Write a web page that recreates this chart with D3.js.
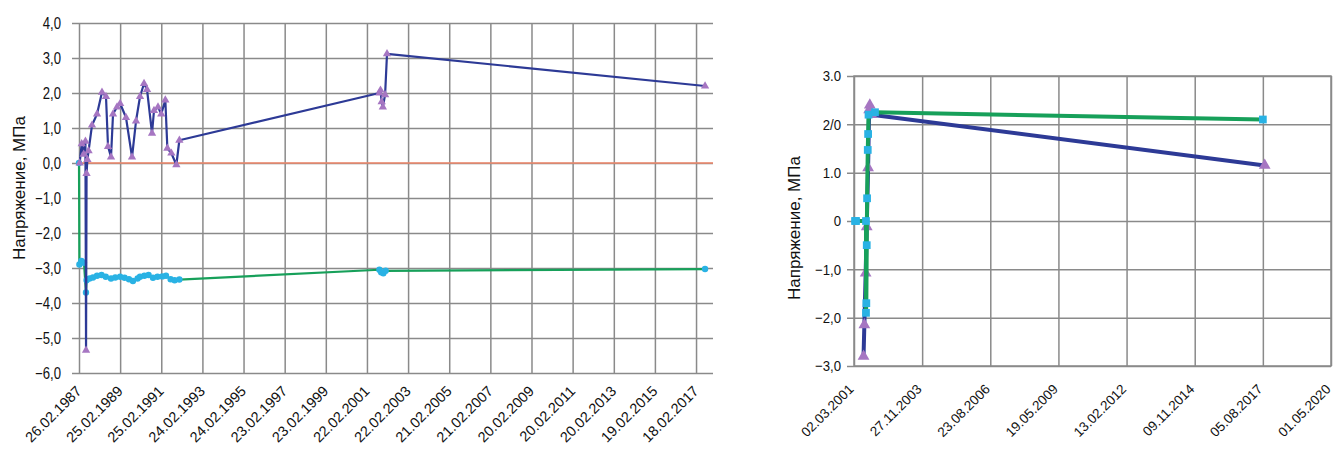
<!DOCTYPE html>
<html><head><meta charset="utf-8">
<script src="https://cdn.jsdelivr.net/npm/d3@7"></script>
<style>
body{margin:0;background:#fff;}
svg{display:block;}
</style></head><body>
<svg id="c" width="1336" height="449"></svg>
<script>
// ---------- DATA ----------
const leftXTickLabels = ["26.02.1987","25.02.1989","25.02.1991","24.02.1993","24.02.1995","23.02.1997","23.02.1999","22.02.2001","22.02.2003","21.02.2005","21.02.2007","20.02.2009","20.02.2011","20.02.2013","19.02.2015","18.02.2017"];
const leftXEnd = "16.12.2017";
const leftYTicks = [4,3,2,1,0,-1,-2,-3,-4,-5,-6];
const leftYTickLabels = ["4,0","3,0","2,0","1,0","0,0","\u22121,0","\u22122,0","\u22123,0","\u22124,0","\u22125,0","\u22126,0"];
const yTitle = "Напряжение, МПа";

const leftBlueDates = ["10.03.1987","15.04.1987","20.05.1987","20.06.1987","01.07.1987","10.07.1987","25.07.1987","15.08.1987","15.10.1987","12.01.1988","09.04.1988","19.06.1988","25.07.1988","16.09.1988","22.10.1988","01.01.1989","25.02.1989","09.06.1989","24.09.1989","04.12.1989","13.02.1990","25.04.1990","17.06.1990","14.09.1990","19.10.1990","29.12.1990","25.02.1991","08.05.1991","13.06.1991","23.08.1991","20.11.1991","12.01.1992","01.10.2001","20.10.2001","10.11.2001","01.12.2001","10.01.2002","13.02.2002","28.07.2017"];
const leftBlueValues = [0.0,0.55,0.25,0.62,-5.35,-0.3,0.1,0.35,1.08,1.4,2.02,1.9,0.47,0.17,1.4,1.6,1.7,1.3,0.17,1.2,1.9,2.27,2.1,0.85,1.5,1.6,1.4,1.8,0.42,0.28,-0.05,0.65,2.0,2.08,1.75,1.6,1.95,3.12,2.2];

const leftGreenDates = ["26.02.1987","05.03.1987","10.04.1987","25.05.1987","30.06.1987","10.07.1987","01.09.1987","01.11.1987","12.01.1988","01.04.1988","15.06.1988","16.09.1988","01.12.1988","25.02.1989","15.05.1989","01.08.1989","10.10.1989","01.01.1990","13.02.1990","01.05.1990","15.07.1990","01.10.1990","20.12.1990","15.03.1991","20.05.1991","10.08.1991","20.10.1991","12.01.1992","01.10.2001","01.11.2001","10.12.2001","20.01.2002","28.07.2017"];
const leftGreenValues = [0.0,-2.9,-2.8,-2.85,-3.7,-3.35,-3.3,-3.27,-3.22,-3.2,-3.25,-3.3,-3.27,-3.25,-3.28,-3.32,-3.37,-3.3,-3.25,-3.22,-3.2,-3.28,-3.25,-3.24,-3.22,-3.32,-3.35,-3.33,-3.05,-3.12,-3.15,-3.08,-3.03];

const leftZeroValue = 0;

const rightXTickLabels = ["02.03.2001","27.11.2003","23.08.2006","19.05.2009","13.02.2012","09.11.2014","05.08.2017","01.05.2020"];
const rightYTicks = [3,2,1,0,-1,-2,-3];
const rightYTickLabels = ["3.0","2/0","1.0","0","\u22121,0","\u22122,0","\u22123,0"];

const rightBlueDates = ["20.07.2001","01.08.2001","20.08.2001","05.09.2001","25.09.2001","10.10.2001","20.10.2001","15.11.2001","01.09.2017"];
const rightBlueValues = [-2.8,-2.15,-1.08,-0.12,1.1,2.3,2.4,2.2,1.15];

const rightGreenDates = ["17.03.2001","01.04.2001","25.08.2001","25.08.2001","30.08.2001","05.09.2001","10.09.2001","20.09.2001","25.09.2001","01.10.2001","04.01.2002","05.08.2017"];
const rightGreenValues = [0.0,0.0,0.0,-1.9,-1.7,-0.5,0.47,1.47,1.8,2.2,2.25,2.1];

// ---------- DRAW ----------
const parse = d3.timeParse("%d.%m.%Y");
const svg = d3.select("#c");
const FONT = '"Liberation Sans",Arial,sans-serif';
const gridColor = "#8a8a8a";

function zip(ds, vs){ return ds.map((d,i)=>({x:parse(d), y:vs[i]})); }

function drawChart(o){
  const x = d3.scaleTime().domain([parse(o.xTicks[0]), parse(o.xEnd)]).range([o.x0, o.x1]);
  const y = d3.scaleLinear().domain([d3.min(o.yTicks), d3.max(o.yTicks)]).range([o.y1, o.y0]);
  const g = svg.append("g");

  // y axis with gridlines
  const ya = d3.axisLeft(y).tickValues(o.yTicks)
     .tickFormat((d,i)=>o.yLabels[i]).tickSizeInner(-(o.x1 - o.x0 + o.outTick)).tickSizeOuter(0).tickPadding(o.yPad);
  const yg = g.append("g").attr("transform", `translate(${o.x0 - o.outTick},0)`).call(ya);
  yg.select(".domain").remove();
  yg.selectAll("line").attr("stroke", gridColor).attr("stroke-width", 1.5);
  yg.selectAll("text").attr("font-family", FONT).attr("font-size", o.yFont).attr("fill","#111")
     .attr("x", -o.yPad / o.yScaleX).attr("transform", `scale(${o.yScaleX},1)`);

  // x axis with gridlines
  const xa = d3.axisBottom(x).tickValues(o.xTicks.map(parse))
     .tickFormat((d,i)=>o.xTicks[i]).tickSizeInner(-(o.y1 - o.y0)).tickSizeOuter(0).tickPadding(0);
  const xg = g.append("g").attr("transform", `translate(0,${o.y1})`).call(xa);
  xg.select(".domain").remove();
  xg.selectAll("line").attr("stroke", gridColor).attr("stroke-width", 1.5);
  xg.selectAll("text").attr("font-family", FONT).attr("font-size", o.xFont).attr("fill","#111")
     .attr("text-anchor","end").attr("y",0).attr("dy",0)
     .attr("transform", `translate(${o.xLabDx},${o.xLabDy}) rotate(-45)`);

  if (o.border) {
    g.append("rect").attr("x", o.x0).attr("y", o.y0).attr("width", o.x1-o.x0).attr("height", o.y1-o.y0)
      .attr("fill","none").attr("stroke", gridColor).attr("stroke-width", 1.5);
  }
  if (o.zero !== undefined) {
    g.append("line").attr("x1", o.x0).attr("x2", o.x1).attr("y1", y(o.zero)).attr("y2", y(o.zero))
      .attr("stroke", "#f0876a").attr("stroke-width", 1.3);
  }

  // y title
  g.append("text").attr("transform", `translate(${o.titleX},${o.titleY}) rotate(-90)`)
    .attr("text-anchor","middle").attr("dominant-baseline","central")
    .attr("font-family", FONT).attr("font-size", o.titleFont).attr("fill","#111").text(yTitle);

  const line = d3.line().x(d=>x(d.x)).y(d=>y(d.y));
  const blue = zip(o.blueD, o.blueV), green = zip(o.greenD, o.greenV);

  const layers = o.greenOnTop ? [["b",blue],["g",green]] : [["g",green],["b",blue]];
  layers.forEach(([k, data])=>{
    const isB = k === "b";
    g.append("path").datum(data).attr("fill","none")
      .attr("stroke", isB ? "#2d3a96" : "#17a05a")
      .attr("stroke-width", o.lw).attr("stroke-linejoin","round").attr("d", line);
    const sym = d3.symbol().type(isB ? d3.symbolTriangle : o.cyanSym).size(isB ? o.triSize : o.cyanSize);
    g.append("g").selectAll("path").data(data).join("path")
      .attr("transform", d=>`translate(${x(d.x)},${y(d.y)})`)
      .attr("d", sym).attr("fill", isB ? "#a676c2" : "#29b2e4");
  });
}

drawChart({
  x0: 79, x1: 713, y0: 23, y1: 373, outTick: 7, yPad: 11, yFont: 16, yScaleX: 0.82, xFont: 14.5,
  xLabDx: 3, xLabDy: 19,
  xTicks: leftXTickLabels, xEnd: leftXEnd, yTicks: leftYTicks, yLabels: leftYTickLabels,
  zero: leftZeroValue, border: false,
  titleX: 19, titleY: 188, titleFont: 17,
  blueD: leftBlueDates, blueV: leftBlueValues, greenD: leftGreenDates, greenV: leftGreenValues,
  lw: 2.2, triSize: 30, cyanSize: 32, cyanSym: d3.symbolCircle, greenOnTop: false
});

drawChart({
  x0: 854, x1: 1331, y0: 76, y1: 366, outTick: 7, yPad: 6, yFont: 15, yScaleX: 0.88, xFont: 13.5,
  xLabDx: 0, xLabDy: 24,
  xTicks: rightXTickLabels, xEnd: rightXTickLabels[rightXTickLabels.length-1], yTicks: rightYTicks, yLabels: rightYTickLabels,
  border: true,
  titleX: 794, titleY: 228, titleFont: 17,
  blueD: rightBlueDates, blueV: rightBlueValues, greenD: rightGreenDates, greenV: rightGreenValues,
  lw: 4, triSize: 60, cyanSize: 60, cyanSym: d3.symbolSquare, greenOnTop: true
});
</script>
</body></html>
